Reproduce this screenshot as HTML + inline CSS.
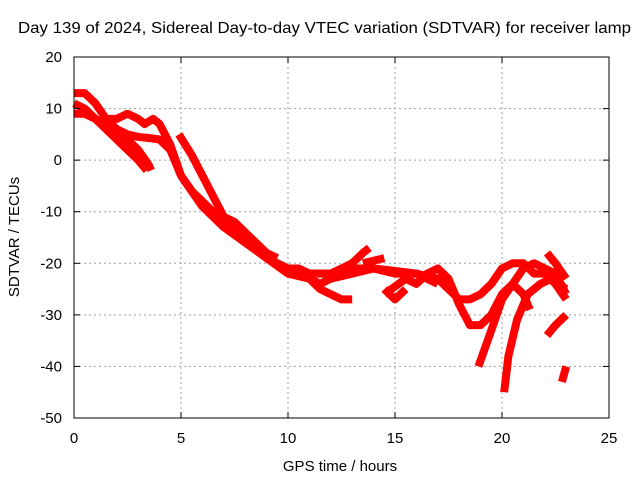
<!DOCTYPE html>
<html><head><meta charset="utf-8"><style>
body{margin:0;background:#fff}
svg text{font-family:"Liberation Sans",sans-serif;font-size:14px;fill:#000}
</style></head><body>
<svg width="640" height="480" viewBox="0 0 640 480">
<g id="grid"></g>
<g id="series"></g>
<rect x="74" y="57" width="535" height="361" fill="none" stroke="#000" stroke-width="1"/>
<g id="ticks"></g>
<text x="18" y="33" style="font-size:16px" textLength="613" lengthAdjust="spacingAndGlyphs">Day 139 of 2024, Sidereal Day-to-day VTEC variation (SDTVAR) for receiver lamp</text>
<text x="340" y="471" text-anchor="middle" style="font-size:15px">GPS time / hours</text>
<text x="19" y="237" text-anchor="middle" style="font-size:15px" transform="rotate(-90 19 237)">SDTVAR / TECUs</text>
</svg>
<script>
const xTicks=[0,5,10,15,20,25];
const yTicks=[20,10,0,-10,-20,-30,-40,-50];
const t1=[[0,13],[0.5,13],[1,11],[1.5,8],[2,6],[2.5,5],[3,4.5],[3.5,4.3],[4,4],[4.5,2],[5,-3],[5.5,-6],[6,-8],[6.5,-10],[7,-12],[7.5,-13],[8,-15],[8.5,-17],[9,-19],[9.5,-20],[10,-21],[10.5,-21],[11,-22],[11.5,-22],[12,-22],[12.5,-21],[13,-20],[13.5,-18],[13.8,-17]];
const t2=[[0,11],[0.5,10],[1,8],[1.5,7],[2,5],[2.5,4],[3,2],[3.5,-1],[3.6,-2]];
const t3=[[0,9],[0.5,9],[1,8],[1.5,6],[2,4],[2.5,2],[3,0],[3.4,-2]];
const t4=[[1.5,8],[2,8],[2.5,9],[3,8],[3.3,7],[3.7,8],[4,7],[4.5,3],[5,-3],[5.5,-6],[6,-9],[7,-13],[8,-16],[9,-19],[10,-22],[11,-23],[11.5,-25],[12,-26],[12.5,-27],[13,-27]];
const t5=[[4.9,5],[5.5,1],[6,-3],[6.5,-7],[7,-11],[7.5,-12],[8,-14],[8.5,-16],[9,-18],[9.5,-19]];
const t6=[[10,-21],[11,-22],[12,-22],[13,-21],[14,-21],[15,-22],[16,-22],[17,-23],[17.5,-25],[18,-27],[18.5,-27],[19,-26],[19.5,-24],[20,-21],[20.5,-20],[21,-20],[21.5,-22],[22,-22],[22.5,-24],[23,-27]];
const t7=[[14.5,-26],[15.5,-23],[16,-24],[16.5,-22],[17,-21],[17.5,-23],[18,-28],[18.5,-32],[19,-32],[19.5,-30],[20,-26],[20.5,-24],[21,-21],[21.5,-20],[22,-21],[22.5,-22],[23,-26]];
const t8=[[13.5,-20],[14.5,-19]];
const t9=[[18.9,-40],[19.5,-33],[20,-27],[20.5,-24],[21,-26],[21.3,-29]];
const t10=[[20.1,-45],[20.3,-38],[20.7,-31],[21.2,-26],[21.8,-24],[22.3,-23],[23,-25]];
const t11=[[22.1,-34],[22.5,-32],[23,-30]];
const t12=[[22.8,-43],[23,-40]];
const t13=[[22.1,-18],[22.5,-20],[23,-23]];
const t14=[[10,-21],[11,-23],[11.5,-24],[12,-23],[13,-22],[14,-21],[15,-21.5],[16,-22],[17,-24]];
const t15=[[14.5,-25],[15,-27],[15.5,-25]];
const allSeries=[t1,t2,t3,t4,t5,t6,t7,t8,t9,t10,t11,t12,t13,t14,t15];
const X=v=>74+v*(535/25);
const Y=v=>57+(20-v)*(361/70);
const NS="http://www.w3.org/2000/svg";
const grid=document.getElementById('grid'),ticks=document.getElementById('ticks'),ser=document.getElementById('series');
function mk(tag,attrs,parent){const e=document.createElementNS(NS,tag);for(const k in attrs)e.setAttribute(k,attrs[k]);parent.appendChild(e);return e;}
xTicks.forEach(t=>{
 if(t>0&&t<25){const g=mk('line',{x1:X(t),x2:X(t),y1:57,y2:418,stroke:'#a0a0a0','stroke-dasharray':'2,3'},grid);
 
 }
 const l=mk('text',{x:X(t),y:443,'text-anchor':'middle',style:'font-size:15px'},ticks);l.textContent=t;
 
 
 mk('line',{x1:X(t),x2:X(t),y1:418,y2:412,stroke:'#000'},ticks);
 mk('line',{x1:X(t),x2:X(t),y1:57,y2:63,stroke:'#000'},ticks);
});
yTicks.forEach(t=>{
 if(t<20&&t>-50){const g=mk('line',{x1:74,x2:609,y1:Y(t),y2:Y(t),stroke:'#a0a0a0','stroke-dasharray':'2,3'},grid);
 
 }
 const l=mk('text',{x:62,y:Y(t)+5,'text-anchor':'end',style:'font-size:15px'},ticks);l.textContent=t;
 
 
 mk('line',{x1:74,x2:80,y1:Y(t),y2:Y(t),stroke:'#000'},ticks);
 mk('line',{x1:609,x2:603,y1:Y(t),y2:Y(t),stroke:'#000'},ticks);
});
allSeries.forEach((s,i)=>{
 const p=mk('polyline',{points:s.map(d=>X(d[0])+','+Y(d[1])).join(' '),fill:'none',stroke:'#ff0000','stroke-width':8,'stroke-linejoin':'round','stroke-linecap':'butt'},ser);
 
 
});
</script>
</body></html>
